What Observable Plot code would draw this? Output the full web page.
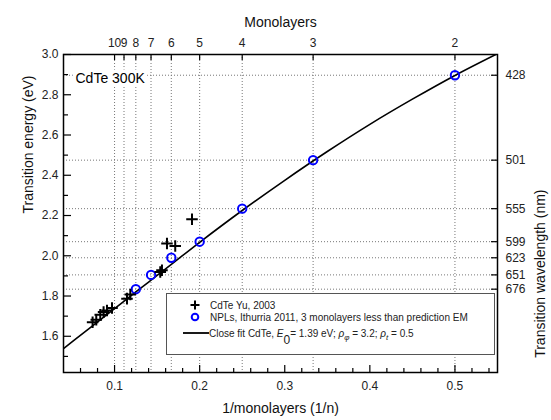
<!DOCTYPE html>
<html><head><meta charset="utf-8">
<script src="https://cdn.jsdelivr.net/npm/d3@7"></script>
<script src="https://cdn.jsdelivr.net/npm/@observablehq/plot@0.6"></script>
<style>body{margin:0;background:#fff} svg{display:block}</style>
</head><body><div id="chart"></div>
<script>
// CdTe Yu, 2003 (x = 1/n, E in eV)
const yuX = [0.0742, 0.0785, 0.0832, 0.0871, 0.0911, 0.0970, 0.1146, 0.1185, 0.1537, 0.1557, 0.1616, 0.1713, 0.1910];
const yuE = [1.670, 1.682, 1.707, 1.720, 1.728, 1.740, 1.787, 1.808, 1.919, 1.928, 2.061, 2.049, 2.181];
// NPLs, Ithurria 2011
const nplN = [2, 3, 4, 5, 6, 7, 8];
const nplX = [0.5, 0.3333, 0.25, 0.2, 0.1667, 0.1429, 0.125];
const nplE = [2.897, 2.475, 2.234, 2.070, 1.990, 1.905, 1.834];
const wavelengthLabels = ["428", "501", "555", "599", "623", "651", "676"];
// Close fit line
const fitX = [0.04, 0.07, 0.1, 0.125, 0.15, 0.2, 0.25, 0.3, 0.35, 0.4, 0.45, 0.5, 0.548];
const fitE = [1.539, 1.638, 1.737, 1.82, 1.902, 2.067, 2.225, 2.375, 2.518, 2.653, 2.778, 2.896, 3.0];
// axes
const monolayers = [2, 3, 4, 5, 6, 7, 8, 9, 10];
const xTicks = [0.1, 0.2, 0.3, 0.4, 0.5];
const xMinor = [0.06, 0.08, 0.12, 0.14, 0.16, 0.18, 0.22, 0.24, 0.26, 0.28, 0.32, 0.34, 0.36, 0.38, 0.42, 0.44, 0.46, 0.48, 0.52, 0.54];
const yTicks = [1.6, 1.8, 2.0, 2.2, 2.4, 2.6, 2.8, 3.0];
const yMinor = [1.5, 1.7, 1.9, 2.1, 2.3, 2.5, 2.7, 2.9];

const W = 551, H = 420, mL = 63, mR = 54, mT = 54, mB = 48;
const pw = W - mL - mR, ph = H - mT - mB;
const font = "'Liberation Sans', Arial, sans-serif";

const yuData = yuX.map((x, i) => ({x, E: yuE[i]}));
const nplData = nplX.map((x, i) => ({x, E: nplE[i], n: nplN[i]}));
const fitData = fitX.map((x, i) => ({x, E: fitE[i]}));
const grid = {stroke: "#777", strokeDasharray: "1,2", strokeWidth: 1};

const plot = Plot.plot({
  width: W, height: H,
  marginLeft: mL, marginRight: mR, marginTop: mT, marginBottom: mB,
  style: {fontFamily: font, fontSize: "12px", color: "#222", background: "white"},
  x: {domain: [0.04, 0.55]},
  y: {domain: [1.42, 3.0]},
  marks: [
    Plot.ruleX(monolayers, {x: n => 1 / n, ...grid}),
    Plot.ruleY(nplE, {y: d => d, ...grid}),
    Plot.tickX(xTicks, {x: d => d, insetTop: ph - 7, stroke: "#000", strokeWidth: 1.2}),
    Plot.tickX(xMinor, {x: d => d, insetTop: ph - 4, stroke: "#000", strokeWidth: 1.2}),
    Plot.tickX(monolayers, {x: n => 1 / n, insetBottom: ph - 6, stroke: "#000", strokeWidth: 1.2}),
    Plot.tickY(yTicks, {y: d => d, insetRight: pw - 8, stroke: "#000", strokeWidth: 1.2}),
    Plot.tickY(yMinor, {y: d => d, insetRight: pw - 5, stroke: "#000", strokeWidth: 1.2}),
    Plot.tickY(nplE, {y: d => d, insetLeft: pw - 6, stroke: "#000", strokeWidth: 1.2}),
    Plot.axisX(xTicks, {anchor: "bottom", tickSize: 0, tickPadding: 9, label: null, tickFormat: d => String(d)}),
    Plot.axisX(monolayers.map(n => 1 / n), {anchor: "top", tickSize: 0, tickPadding: 8, label: null, tickFormat: d => String(Math.round(1 / d))}),
    Plot.axisY(yTicks, {anchor: "left", tickSize: 0, tickPadding: 5, label: null, tickFormat: d => d.toFixed(1)}),
    Plot.axisY(nplE, {anchor: "right", tickSize: 0, tickPadding: 8, label: null, tickFormat: d => wavelengthLabels[nplE.indexOf(d)]}),
    Plot.text(["CdTe 300K"], {frameAnchor: "top-left", dx: 12, dy: 19, textAnchor: "start", fontSize: 14, fill: "#000", stroke: "white", strokeWidth: 7, paintOrder: "stroke"}),
    Plot.line(fitData, {x: "x", y: "E", stroke: "#000", strokeWidth: 1.6, curve: "monotone-x", clip: true}),
    Plot.dot(nplData, {x: "x", y: "E", symbol: "circle", stroke: "#0000ff", strokeWidth: 2, r: 4.2}),
    Plot.dot(yuData, {x: "x", y: "E", symbol: "plus", stroke: "#000", strokeWidth: 2, r: 3.8}),
    Plot.frame({stroke: "#000", strokeWidth: 1.5}),
    Plot.text(["Monolayers"], {frameAnchor: "top", dy: -37, fontSize: 14, fill: "#111"}),
    Plot.text(["1/monolayers (1/n)"], {frameAnchor: "bottom", dy: 40, fontSize: 14, fill: "#111"}),
    Plot.text(["Transition energy (eV)"], {frameAnchor: "left", dx: -35, rotate: -90, fontSize: 14, fill: "#111"}),
    Plot.text(["Transition wavelength (nm)"], {frameAnchor: "right", dx: 43, dy: -24, rotate: -90, fontSize: 14, fill: "#111"})
  ]
});

// legend
const svg = d3.select(plot);
const g = svg.append("g").attr("font-family", font).attr("font-size", 10).attr("fill", "#222").attr("text-anchor", "start");
g.append("rect").attr("x", 166.5).attr("y", 293.5).attr("width", 328).attr("height", 61)
  .attr("fill", "white").attr("stroke", "#555").attr("stroke-width", 1);
g.append("path").attr("d", "M190.5,305H199.5M195,300.5V309.5").attr("stroke", "#000").attr("stroke-width", 2);
g.append("circle").attr("cx", 195).attr("cy", 317).attr("r", 3.3).attr("fill", "none").attr("stroke", "#0000ff").attr("stroke-width", 2);
g.append("line").attr("x1", 183).attr("x2", 209).attr("y1", 333).attr("y2", 333).attr("stroke", "#000").attr("stroke-width", 1.8);
g.append("text").attr("x", 210).attr("y", 305).attr("dy", "0.35em").text("CdTe Yu, 2003");
g.append("text").attr("x", 210).attr("y", 317).attr("dy", "0.35em").text("NPLs, Ithurria 2011, 3 monolayers less than prediction EM");
const t = g.append("text").attr("x", 209).attr("y", 333).attr("dy", "0.35em");
t.append("tspan").text("Close fit CdTe, ");
t.append("tspan").attr("font-style", "italic").text("E");
t.append("tspan").attr("dy", 7).attr("font-size", 12).text("0");
t.append("tspan").attr("dy", -7).text("= 1.39 eV; ");
t.append("tspan").attr("font-style", "italic").text("ρ");
t.append("tspan").attr("dy", 3).attr("font-size", 8).attr("font-style", "italic").text("φ");
t.append("tspan").attr("dy", -3).text(" = 3.2; ");
t.append("tspan").attr("font-style", "italic").text("ρ");
t.append("tspan").attr("dy", 3).attr("font-size", 8).attr("font-style", "italic").text("t");
t.append("tspan").attr("dy", -3).text(" = 0.5");

document.getElementById("chart").appendChild(plot);
</script>
</body></html>
